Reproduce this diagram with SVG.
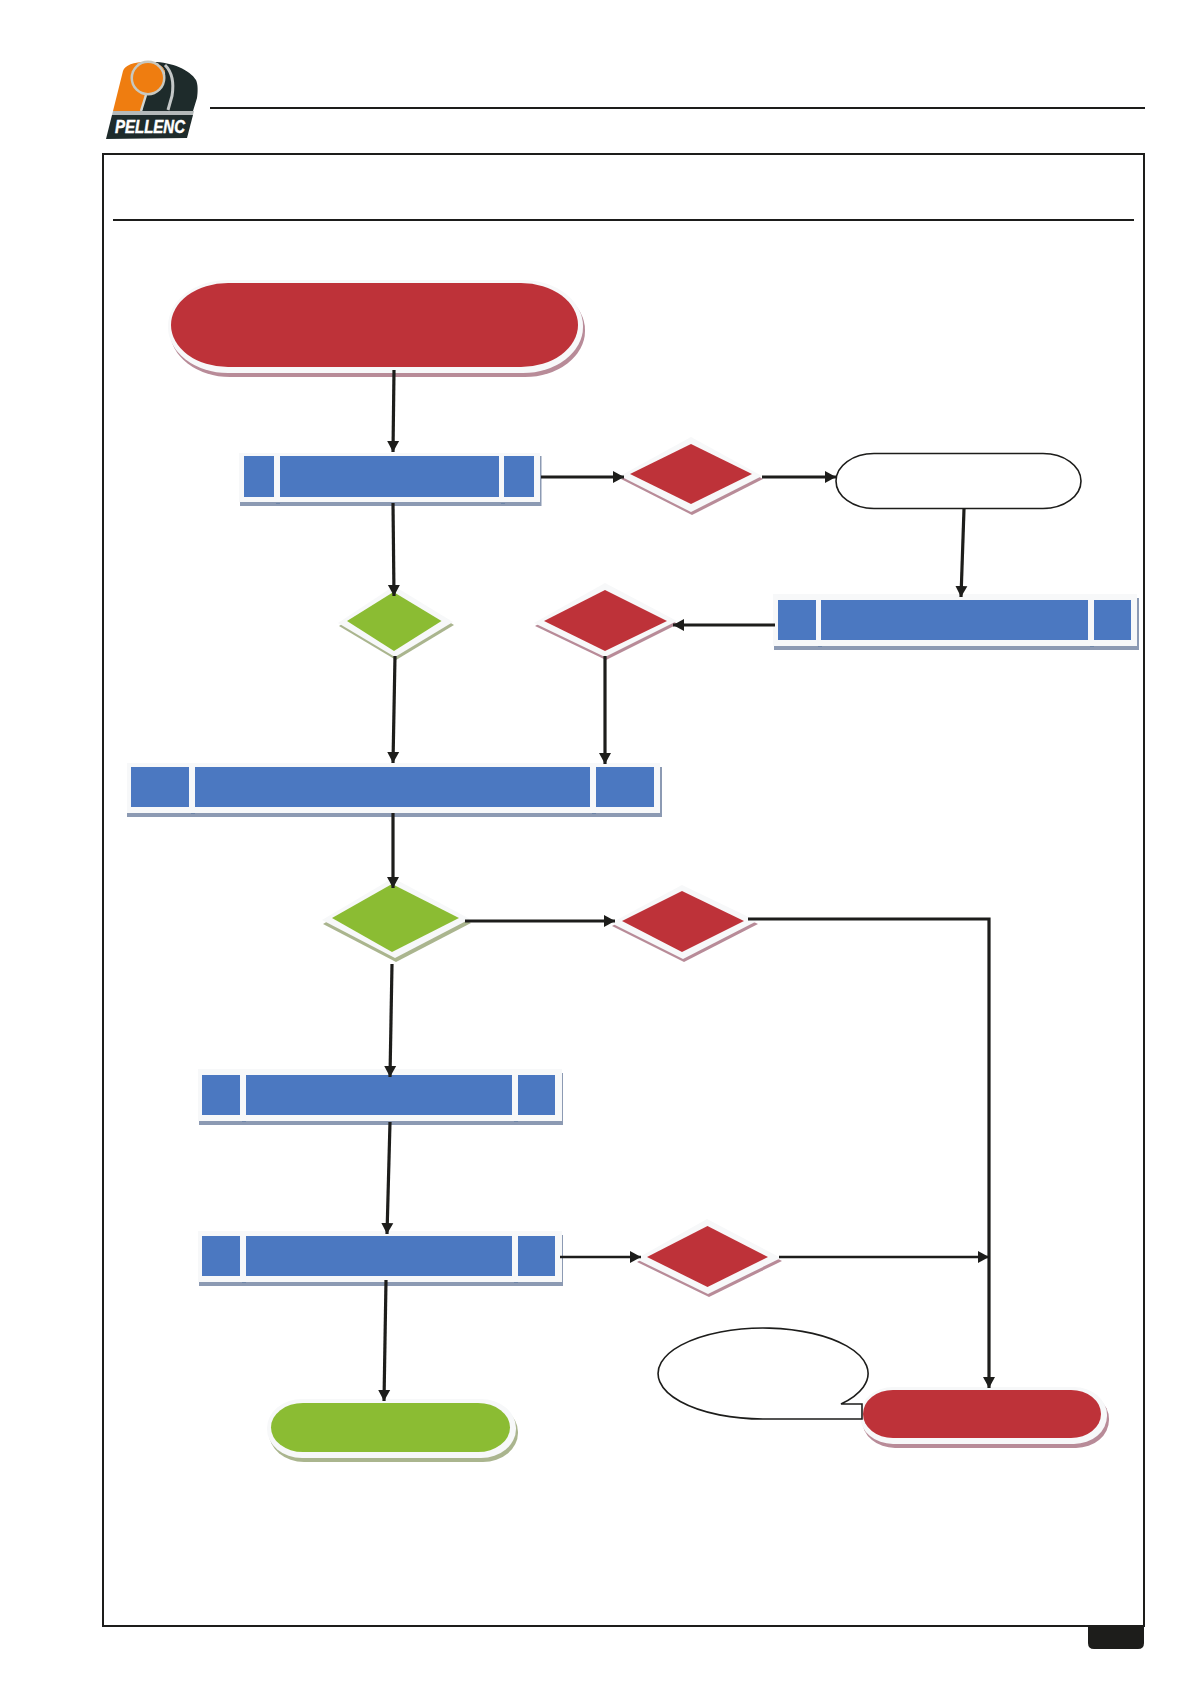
<svg xmlns="http://www.w3.org/2000/svg" width="1190" height="1684" viewBox="0 0 1190 1684">
<style>
.halo{fill:#f7f8f9}
.r{fill:#be3239}.b{fill:#4b78c1}.g{fill:#8bbc33}
.rs{fill:#b88b98}.bs{fill:#8c9ab3}.gs{fill:#aab58e}
.tick{fill:#6f86a8}
.frame{fill:none;stroke:#1d1d1b;stroke-width:2}
.rule{stroke:#1d1d1b;stroke-width:2;fill:none}
.outline{fill:#fff;stroke:#1d1d1b;stroke-width:1.6}
.c{fill:none;stroke:#1d1d1b;stroke-width:3.2}
.c2{fill:none;stroke:#1d1d1b;stroke-width:2.6}
</style>
<defs>
<marker id="ah" markerUnits="userSpaceOnUse" markerWidth="13" markerHeight="13" refX="11" refY="6.5" orient="auto">
<path d="M0 0.5L11 6.5L0 12.5Z" fill="#1d1d1b"/>
</marker>
</defs>
<rect width="1190" height="1684" fill="#fff"/>

<g id="logo">
<path d="M142 111L146 92C158 92 166 82 165 72C164 68 160 64 153 62C172 62 190 70 196 80C198 84 198 92 197 98L193 111Z" fill="#1e2b2b"/>
<path d="M113 111L123 71C125 65 135 61 153 62C160 64 164 68 165 72L146 92L141 111Z" fill="#ef7d10"/>
<circle cx="148" cy="78" r="17.5" fill="#c8c8c0"/>
<circle cx="148" cy="78" r="15" fill="#ef7d10"/>
<path d="M146 95L141 111" fill="none" stroke="#d4d6d0" stroke-width="2.4"/>
<path d="M165 65C172 72 174 84 172 96L168 110" fill="none" stroke="#c4c8c8" stroke-width="3"/>
<path d="M113 111H194L193 115H112Z" fill="#b4b9b9"/>
<path d="M112 115H193L187 138L106 139Z" fill="#1e2b2b"/>
<text x="115" y="133" font-family="'Liberation Sans',Arial,sans-serif" font-size="19" font-weight="700" font-style="italic" fill="#fff" stroke="#fff" stroke-width="0.5" textLength="70" lengthAdjust="spacingAndGlyphs">PELLENC</text>
</g>

<g id="page-frame">
<line class="rule" x1="210" y1="108" x2="1145" y2="108"/>
<rect class="frame" x="103" y="154" width="1041" height="1472"/>
<line class="rule" x1="113" y1="220" x2="1134" y2="220"/>
<path id="page-tab" d="M1088 1626H1144V1643Q1144 1649 1138 1649H1094Q1088 1649 1088 1643Z" fill="#1d1d1b"/>
</g>

<g id="node-start">
<rect class="rs" x="170" y="284" width="415" height="93" rx="60" ry="46"/>
<rect class="halo" x="168" y="280" width="415" height="93" rx="60" ry="46"/>
<rect class="r" x="171" y="283" width="407" height="84" rx="57" ry="42"/>
</g>

<g id="node-bar-1">
<rect class="bs" x="240" y="456" width="301.5" height="50"/>
<rect class="halo" x="239" y="453" width="301" height="49"/>
<rect class="b" x="244" y="456" width="30" height="41"/>
<rect class="b" x="280" y="456" width="219" height="41"/>
<rect class="b" x="504" y="456" width="30" height="41"/>
<rect class="tick" x="276" y="503" width="4" height="1"/>
<rect class="tick" x="501" y="503" width="4" height="1"/>
</g>

<g id="node-diamond-red-1">
<polygon class="rs" points="621,479 692,440 763,479 692,515"/>
<polygon class="halo" points="620,476 691,437 762,476 691,512"/>
<polygon class="r" points="630,474 691,444 752,474 691,504"/>
</g>

<g id="node-oval">
<rect class="outline" x="836" y="453.5" width="245" height="55" rx="38" ry="27.5"/>
</g>

<g id="node-bar-2">
<rect class="bs" x="774" y="598" width="365" height="52"/>
<rect class="halo" x="773" y="594" width="364" height="52"/>
<rect class="b" x="778" y="600" width="38" height="40"/>
<rect class="b" x="821" y="600" width="267" height="40"/>
<rect class="b" x="1094" y="600" width="37" height="40"/>
<rect class="tick" x="818" y="646" width="4" height="1"/>
<rect class="tick" x="1090" y="646" width="4" height="1"/>
</g>

<g id="node-diamond-green-1">
<polygon class="gs" points="339,626 395,589 454,625 396,660"/>
<polygon class="halo" points="338,623 394,586 453,622 395,657"/>
<polygon class="g" points="347,621 393.5,592 441.5,621 394,651"/>
</g>

<g id="node-diamond-red-2">
<polygon class="rs" points="535,626 606,586 678,624 606,660"/>
<polygon class="halo" points="534,623 605,583 677,621 605,657"/>
<polygon class="r" points="544,621 605,590 667,621 605,651"/>
</g>

<g id="node-bar-3">
<rect class="bs" x="127" y="767" width="535" height="50"/>
<rect class="halo" x="127" y="763" width="533" height="50"/>
<rect class="b" x="131" y="767" width="58" height="40"/>
<rect class="b" x="195" y="767" width="395" height="40"/>
<rect class="b" x="596" y="767" width="58" height="40"/>
<rect class="tick" x="191" y="813" width="4" height="1"/>
<rect class="tick" x="592" y="813" width="4" height="1"/>
</g>

<g id="node-diamond-green-2">
<polygon class="gs" points="323,924 394,882 471,923 396,962"/>
<polygon class="halo" points="322,920 393,878 470,919 395,958"/>
<polygon class="g" points="332,918 392,884 459,918 392,952"/>
</g>

<g id="node-diamond-red-3">
<polygon class="rs" points="612,926 683,888 758,924 684,962"/>
<polygon class="halo" points="611,923 682,885 757,921 683,959"/>
<polygon class="r" points="622,921 682,891 744,921 682,952"/>
</g>

<g id="node-bar-4">
<rect class="bs" x="199" y="1073" width="364" height="52"/>
<rect class="halo" x="198" y="1069" width="364" height="52"/>
<rect class="b" x="202" y="1075" width="38" height="40"/>
<rect class="b" x="246" y="1075" width="266" height="40"/>
<rect class="b" x="518" y="1075" width="37" height="40"/>
<rect class="tick" x="242" y="1121" width="4" height="1"/>
<rect class="tick" x="514" y="1121" width="4" height="1"/>
</g>

<g id="node-bar-5">
<rect class="bs" x="199" y="1235" width="364" height="51"/>
<rect class="halo" x="198" y="1231" width="364" height="51"/>
<rect class="b" x="202" y="1236" width="38" height="40"/>
<rect class="b" x="246" y="1236" width="266" height="40"/>
<rect class="b" x="518" y="1236" width="37" height="40"/>
<rect class="tick" x="242" y="1282" width="4" height="1"/>
<rect class="tick" x="514" y="1282" width="4" height="1"/>
</g>

<g id="node-diamond-red-4">
<polygon class="rs" points="637,1262 708,1222 782,1261 709,1297"/>
<polygon class="halo" points="636,1259 707,1219 781,1258 708,1294"/>
<polygon class="r" points="647,1257 707.5,1226 768,1257 707.5,1287"/>
</g>

<g id="node-end-red">
<rect class="rs" x="862" y="1391" width="247" height="57" rx="33" ry="28"/>
<rect class="halo" x="860" y="1387" width="247" height="57" rx="33" ry="28"/>
<rect class="r" x="863" y="1390" width="238" height="48" rx="30" ry="24"/>
</g>

<g id="node-callout">
<path class="outline" d="M763 1419A105 45.5 0 1 1 841 1404H862V1419Z"/>
</g>

<g id="node-end-green">
<rect class="gs" x="269" y="1403" width="249" height="59" rx="35" ry="29"/>
<rect class="halo" x="267" y="1399" width="249" height="59" rx="35" ry="29"/>
<rect class="g" x="271" y="1403" width="239" height="49" rx="32" ry="24.5"/>
</g>

<g id="connectors">
<line class="c" x1="394" y1="370" x2="393" y2="452" marker-end="url(#ah)"/>
<line class="c" x1="393" y1="503" x2="394" y2="596" marker-end="url(#ah)"/>
<line class="c" x1="541" y1="477" x2="624" y2="477" marker-end="url(#ah)"/>
<line class="c" x1="762" y1="477" x2="836" y2="477" marker-end="url(#ah)"/>
<line class="c" x1="964" y1="509" x2="961" y2="597" marker-end="url(#ah)"/>
<line class="c" x1="775" y1="625" x2="673" y2="625" marker-end="url(#ah)"/>
<line class="c" x1="395" y1="656" x2="393" y2="763" marker-end="url(#ah)"/>
<line class="c" x1="605" y1="656" x2="605" y2="764" marker-end="url(#ah)"/>
<line class="c" x1="393" y1="813" x2="393" y2="888" marker-end="url(#ah)"/>
<line class="c" x1="465" y1="921" x2="615" y2="921" marker-end="url(#ah)"/>
<path class="c" d="M748 919H989V1388" marker-end="url(#ah)"/>
<line class="c" x1="392" y1="964" x2="390" y2="1077" marker-end="url(#ah)"/>
<line class="c" x1="390" y1="1122" x2="387" y2="1234" marker-end="url(#ah)"/>
<line class="c" x1="386" y1="1280" x2="384" y2="1401" marker-end="url(#ah)"/>
<line class="c2" x1="560" y1="1257" x2="641" y2="1257" marker-end="url(#ah)"/>
<line class="c2" x1="779" y1="1257" x2="989" y2="1257" marker-end="url(#ah)"/>
</g>
</svg>
